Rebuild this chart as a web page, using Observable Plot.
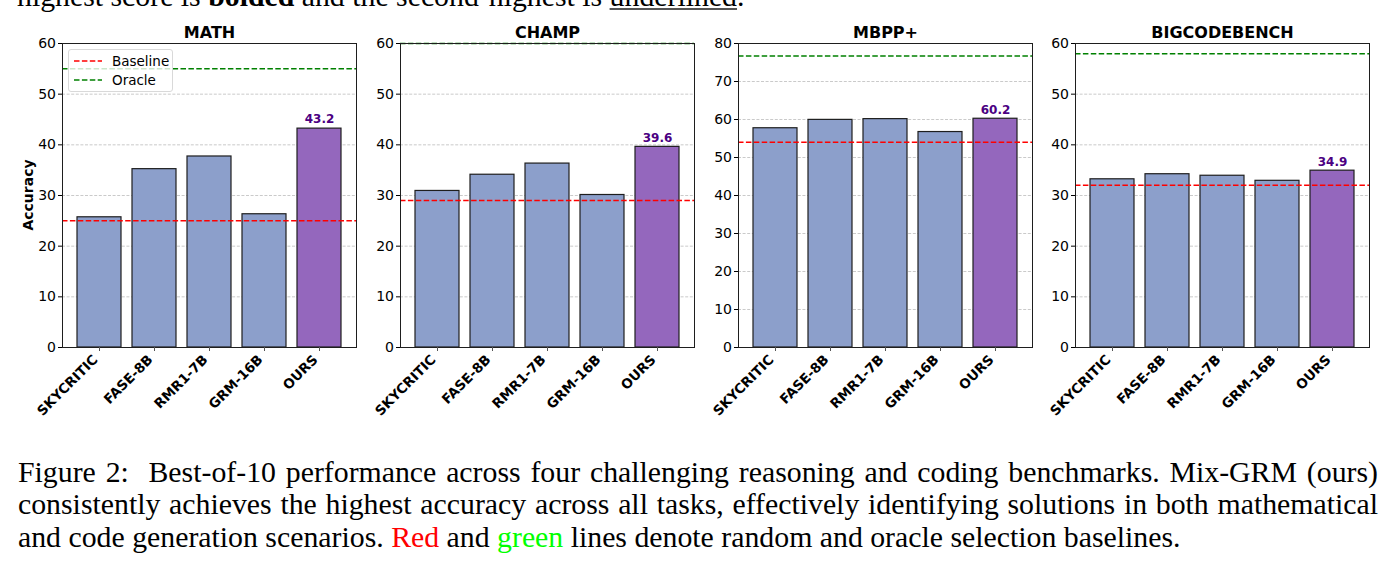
<!DOCTYPE html>
<html>
<head>
<meta charset="utf-8">
<script src="https://cdn.jsdelivr.net/npm/d3@7"></script>
<script src="https://cdn.jsdelivr.net/npm/@observablehq/plot@0.6"></script>
<style>
  html, body { margin: 0; padding: 0; background: #fff; }
  body { width: 1394px; height: 572px; overflow: hidden; position: relative; }
  .panel { position: absolute; top: 0; }
  .panel svg { overflow: visible; }
  .legend {
    position: absolute; box-sizing: border-box;
    background: rgba(255,255,255,0.8); border: 1px solid #d9d9d9; border-radius: 3px;
    font: 13.5px "DejaVu Sans"; color: #000;
  }
  .legend .item { position: absolute; left: 5px; height: 16px; display: flex; align-items: center; }
  .legend .item span { margin-left: 10px; }
  .ylabel {
    position: absolute; font: bold 14px "DejaVu Sans"; color: #000;
    transform: translate(-50%, -50%) rotate(-90deg); white-space: nowrap;
  }
  .serif { font-family: "Liberation Serif", "Times New Roman", serif; color: #000; }
  .topline { position: absolute; left: 17px; top: -20px; font-size: 29.8px; line-height: 32.5px; white-space: nowrap; }
  .topline u { text-decoration-color: #555; text-decoration-thickness: 1.5px; text-underline-offset: 2px; }
  .caption { position: absolute; left: 18px; top: 455.5px; width: 1360px; font-size: 29.8px; line-height: 32.5px; }
  .caption .j { text-align: justify; text-align-last: justify; white-space: nowrap; }
</style>
</head>
<body>
<div id="figure"></div>
<script>
// Models compared on each benchmark (bar categories)
const models = ["SKYCRITIC", "FASE-8B", "RMR1-7B", "GRM-16B", "OURS"];

// Benchmarks, one panel each
const benchmarks = ["MATH", "CHAMP", "MBPP+", "BIGCODEBENCH"];

// Best-of-10 accuracy per model, per benchmark
const mathScores     = [25.7, 35.2, 37.7, 26.3, 43.2];
const champScores    = [30.9, 34.1, 36.3, 30.1, 39.6];
const mbppScores     = [57.7, 59.9, 60.1, 56.7, 60.2];
const bigcodeScores  = [33.2, 34.2, 33.9, 32.9, 34.9];

// Random-selection (Baseline) and oracle-selection (Oracle) accuracy per benchmark
const baselineValues = [25.0, 29.0, 54.0, 32.0];
const oracleValues   = [55.0, 60.0, 76.7, 58.0];

// Upper end of each panel's y axis
const yMaxValues = [60, 60, 80, 60];

const scoreSets = [mathScores, champScores, mbppScores, bigcodeScores];

// Panel layout
const frameLefts = [61.5, 400, 737.7, 1075];
const frameWidth = 294;
const marginLeft = 60, marginRight = 14, marginTop = 43, marginBottom = 93, plotHeight = 440;

const colors = {other: "#8c9fcb", ours: "#9467bd", label: "#4b0082"};

const figure = document.getElementById("figure");

benchmarks.forEach((name, i) => {
  const rows = models.map((m, j) => ({model: m, score: scoreSets[i][j]}));
  const yMax = yMaxValues[i];
  const ticks = d3.range(0, yMax + 1, 10);

  const chart = Plot.plot({
    width: marginLeft + frameWidth + marginRight,
    height: plotHeight,
    marginLeft, marginRight, marginTop, marginBottom,
    style: {fontFamily: "DejaVu Sans", color: "#000", background: "transparent", overflow: "visible"},
    x: {domain: models, paddingInner: 0.2, paddingOuter: 0.24, label: null},
    y: {domain: [0, yMax], label: null},
    marks: [
      Plot.gridY(ticks, {stroke: "#bdbdbd", strokeOpacity: 1, strokeWidth: 0.8, strokeDasharray: "3,1.6"}),
      Plot.barY(rows, {
        x: "model", y: "score",
        fill: d => d.model === "OURS" ? colors.ours : colors.other,
        stroke: "#1e1e1e", strokeWidth: 1.2
      }),
      Plot.ruleY([baselineValues[i]], {stroke: "#ff0000", strokeWidth: 1.5, strokeDasharray: "5.5,2.4"}),
      Plot.ruleY([oracleValues[i]], {stroke: "#008000", strokeWidth: 1.5, strokeDasharray: "5.5,2.4"}),
      Plot.text(rows.filter(d => d.model === "OURS"), {
        x: "model", y: "score", text: d => d.score.toFixed(1),
        dy: -9, fill: colors.label, fontWeight: "bold", fontSize: 12
      }),
      Plot.frame({stroke: "#1e1e1e", strokeWidth: 1}),
      Plot.axisY(ticks, {tickSize: 4, tickPadding: 2.5, fontSize: 14, label: null}),
      // x tick marks
      Plot.axisX({tickSize: 4, text: null, label: null, stroke: "#555"}),
      // rotated x tick labels
      Plot.axisX({tickSize: 0, tickRotate: -45, tickPadding: 10, dx: -4, fontSize: 13.5, fontWeight: "bold", label: null}),
      Plot.text([name], {frameAnchor: "top", lineAnchor: "bottom", dy: -6, fontWeight: "bold", fontSize: 16})
    ]
  });

  const wrap = document.createElement("div");
  wrap.className = "panel";
  wrap.style.left = (frameLefts[i] - marginLeft) + "px";
  wrap.appendChild(chart);
  figure.appendChild(wrap);
});

// Y-axis title on the first panel
const ylab = document.createElement("div");
ylab.className = "ylabel";
ylab.textContent = "Accuracy";
ylab.style.left = "28px";
ylab.style.top = "195px";
figure.appendChild(ylab);

// Legend in the first panel
const legend = document.createElement("div");
legend.className = "legend";
legend.style.left = "68px";
legend.style.top = "49px";
legend.style.width = "105px";
legend.style.height = "43px";
const legendItems = [["Baseline", "#ff0000"], ["Oracle", "#008000"]];
legendItems.forEach(([label, color], k) => {
  const item = document.createElement("div");
  item.className = "item";
  item.style.top = (3 + k * 19) + "px";
  item.innerHTML = `<svg width="28" height="6"><line x1="0" y1="3" x2="28" y2="3" stroke="${color}" stroke-width="1.5" stroke-dasharray="5.5,2.4"/></svg><span>${label}</span>`;
  legend.appendChild(item);
});
figure.appendChild(legend);

// Surrounding text
const topLine = document.createElement("div");
topLine.className = "serif topline";
topLine.innerHTML = "highest score is <b>bolded</b> and the second-highest is <u>underlined</u>.";
figure.appendChild(topLine);

const cap = document.createElement("div");
cap.className = "serif caption";
cap.innerHTML =
  '<div class="j">Figure 2:&nbsp; Best-of-10 performance across four challenging reasoning and coding benchmarks. Mix-GRM (ours)</div>' +
  '<div class="j">consistently achieves the highest accuracy across all tasks, effectively identifying solutions in both mathematical</div>' +
  '<div>and code generation scenarios. <span style="color:#ff0000">Red</span> and <span style="color:#00ff00">green</span> lines denote random and oracle selection baselines.</div>';
figure.appendChild(cap);
</script>
</body>
</html>
